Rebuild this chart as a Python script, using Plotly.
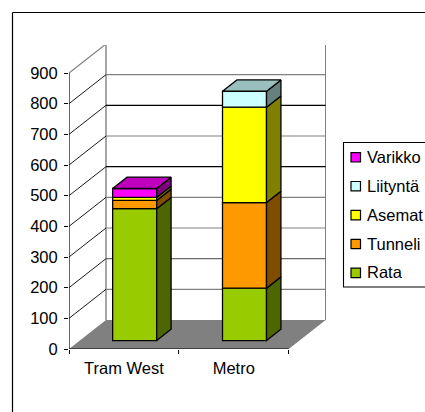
import plotly.graph_objects as go

categories = ["Tram West", "Metro"]
series_names = ["Rata", "Tunneli", "Asemat", "Liityntä", "Varikko"]
rata = [430, 171]
tunneli = [27, 279]
asemat = [10, 311]
liityntä = [0, 52]
varikko = [29, 0]
tick_values = [0, 100, 200, 300, 400, 500, 600, 700, 800, 900]

series_values = [rata, tunneli, asemat, liityntä, varikko]
front_colors = ["#99CC00", "#FF9900", "#FFFF00", "#CCFFFF", "#FF00FF"]
side_colors = ["#4D6600", "#804D00", "#808000", "#668080", "#800080"]
top_colors = ["#739900", "#BF7300", "#BFBF00", "#99BFBF", "#BF00BF"]
grid_colors = ["#808080", "#6A6A6A", "#808080", "#808080", "#000000", "#808080", "#000000", "#808080"]

W, H = 425, 412
L, R, T, B = 69, 326, 45, 349          # plot rectangle, px
X_PX = 109.85                          # px per category
Y_PX = 276 / 900                       # px per value unit
DX = 37 / X_PX                         # depth shift in x units
DY = 29 / Y_PX                         # depth shift in value units
BAR_FRONT, BAR_BACK = 0.29, 0.68
BAR_W = 44 / X_PX
FONT = dict(family="Liberation Sans, Arial, sans-serif", size=16.5, color="#000000")


def proj(x, v, d):
    return x + d * DX, v + d * DY


def px(x):
    return (x - L) / (R - L)


def py(y):
    return (B - y) / (B - T)


fig = go.Figure()
shapes = []
annotations = []


def seg(p, q, color, width):
    shapes.append(dict(type="line", xref="x", yref="y", layer="below",
                       x0=p[0], y0=p[1], x1=q[0], y1=q[1],
                       line=dict(color=color, width=width)))


n = len(categories)
# floor
floor = [proj(0, 0, 0), proj(n, 0, 0), proj(n, 0, 1), proj(0, 0, 1)]
path = "M " + " L ".join(f"{a},{b}" for a, b in floor) + " Z"
shapes.append(dict(type="path", xref="x", yref="y", layer="below", path=path,
                   fillcolor="#808080", line=dict(width=0)))
# walls
top = tick_values[-1]
seg(proj(0, 0, 1), proj(0, top, 1), "#808080", 1.4)
seg(proj(n, 0, 1), proj(n, top, 1), "#808080", 1.4)
seg(proj(0, top, 1), proj(n, top, 1), "#808080", 1.4)
seg(proj(0, top, 0), proj(0, top, 1), "#808080", 1.2)
for v, c in zip(tick_values[1:-1], grid_colors):
    seg(proj(0, v, 1), proj(n, v, 1), c, 1.1)
    seg(proj(0, v, 0), proj(0, v, 1), "#000000", 0.9)

# front faces and depth faces
centres = [i + 0.5 for i in range(n)]
for s, (name, vals) in enumerate(zip(series_names, series_values)):
    bases = [sum(series_values[k][i] for k in range(s)) for i in range(n)]
    fig.add_trace(go.Bar(
        x=[proj(c, 0, BAR_FRONT)[0] for c in centres],
        y=vals,
        base=[proj(0, b, BAR_FRONT)[1] for b in bases],
        width=BAR_W, name=name, showlegend=False,
        marker=dict(color=front_colors[s], line=dict(color="#000000", width=1.3)),
    ))
    for i, c in enumerate(centres):
        if vals[i] == 0:
            continue
        b, t = bases[i], bases[i] + vals[i]
        xr = c + BAR_W / 2
        pts = [proj(xr, b, BAR_FRONT), proj(xr, b, BAR_BACK), proj(xr, t, BAR_BACK), proj(xr, t, BAR_FRONT), proj(xr, b, BAR_FRONT)]
        fig.add_trace(go.Scatter(x=[p[0] for p in pts], y=[p[1] for p in pts], mode="lines", fill="toself",
                                 fillcolor=side_colors[s], line=dict(color="#000000", width=1.3),
                                 showlegend=False, hoverinfo="skip"))
        is_top = all(series_values[k][i] == 0 for k in range(s + 1, len(series_values)))
        if is_top:
            xl = c - BAR_W / 2
            pts = [proj(xl, t, BAR_FRONT), proj(xr, t, BAR_FRONT), proj(xr, t, BAR_BACK), proj(xl, t, BAR_BACK), proj(xl, t, BAR_FRONT)]
            fig.add_trace(go.Scatter(x=[p[0] for p in pts], y=[p[1] for p in pts], mode="lines", fill="toself",
                                     fillcolor=top_colors[s], line=dict(color="#000000", width=1.3),
                                     showlegend=False, hoverinfo="skip"))

# axis lines
fig.add_trace(go.Scatter(x=[0, 0, n], y=[top, 0, 0], mode="lines", line=dict(color="#000000", width=1.2),
                         showlegend=False, hoverinfo="skip"))

# outer frame (open on the right and at the bottom, where the picture is cropped)
for x0, y0, x1, y1 in [(12.5, 12.5, W, 12.5), (12.5, 12.5, 12.5, H)]:
    shapes.append(dict(type="line", xref="paper", yref="paper", x0=px(x0), y0=py(y0), x1=px(x1), y1=py(y1),
                       line=dict(color="#000000", width=1.2)))

# legend
LEG_L, LEG_T, LEG_B = 343.5, 142.5, 287
ROW0, ROW = 157.3, 28.9
shapes.append(dict(type="rect", xref="paper", yref="paper", x0=px(LEG_L), y0=py(LEG_T), x1=px(W + 5), y1=py(LEG_B),
                   fillcolor="#FFFFFF", line=dict(color="#000000", width=1.1)))
for j, s in enumerate(range(len(series_names) - 1, -1, -1)):
    yc = ROW0 + j * ROW
    shapes.append(dict(type="rect", xref="paper", yref="paper", x0=px(351), y0=py(yc - 4.7), x1=px(360.5), y1=py(yc + 4.7),
                       fillcolor=front_colors[s], line=dict(color="#000000", width=1.2)))
    annotations.append(dict(xref="paper", yref="paper", x=px(366), y=py(yc - 0.5), xanchor="left", yanchor="middle",
                            text=series_names[s], showarrow=False, font=FONT, xshift=0, borderpad=0))

fig.update_layout(
    width=W, height=H, autosize=False,
    margin=dict(l=L, r=W - R, t=T, b=H - B, pad=0, autoexpand=False),
    paper_bgcolor="#FFFFFF", plot_bgcolor="rgba(0,0,0,0)",
    barmode="overlay", showlegend=False, font=FONT,
    shapes=shapes, annotations=annotations,
    xaxis=dict(range=[0, (R - L) / X_PX], showgrid=False, zeroline=False, showline=False,
               tickmode="array", tickvals=centres, ticktext=categories, ticks="", ticklabelstandoff=7,
               minor=dict(tickmode="array", tickvals=list(range(n + 1)), ticks="outside", ticklen=4,
                          tickwidth=1.1, tickcolor="#000000", showgrid=False),
               tickfont=FONT),
    yaxis=dict(range=[0, (B - T) / Y_PX], showgrid=False, zeroline=False, showline=False,
               tickmode="array", tickvals=tick_values, ticks="outside", ticklen=4, tickwidth=1.1,
               tickcolor="#000000", tickfont=FONT, ticklabelstandoff=3),
)

fig.write_html("out.html", config=dict(displayModeBar=False),
               post_script="document.body.style.margin='0';document.body.style.overflow='hidden';")
